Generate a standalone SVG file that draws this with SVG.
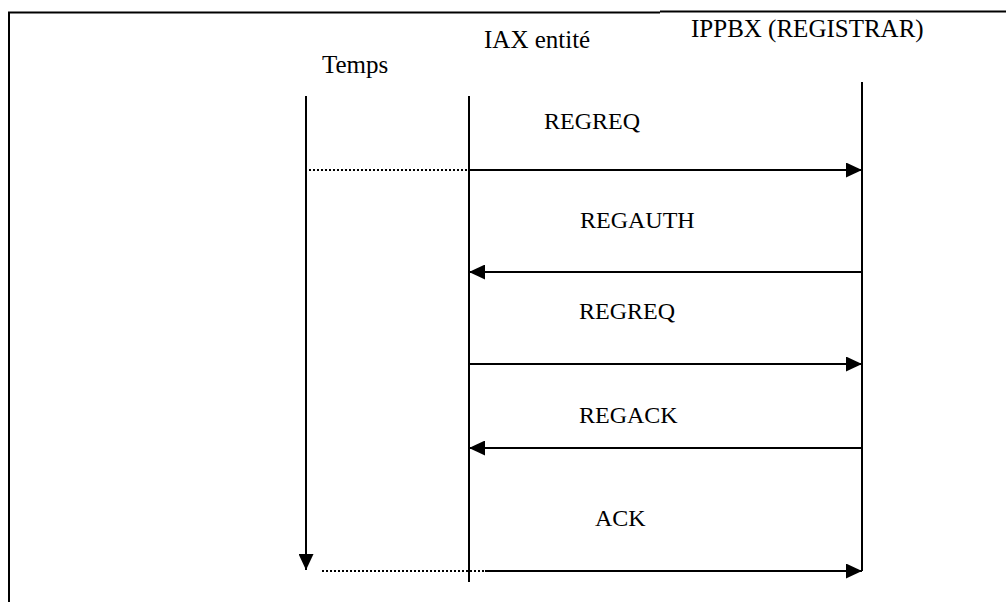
<svg xmlns="http://www.w3.org/2000/svg" width="1006" height="602" viewBox="0 0 1006 602">
  <defs>
    <marker id="head" markerWidth="16" markerHeight="15" refX="16" refY="7.5" orient="auto" markerUnits="userSpaceOnUse">
      <path d="M0,0 L16,7.5 L0,15 Z" fill="#000"/>
    </marker>
    <style>
      .t { font-family: 'Liberation Serif', 'Times New Roman', serif; font-size: 24px; fill: #000; }
      .h { font-size: 25px; }
      .life { stroke: #000; stroke-width: 2; fill: none; }
      .msg { stroke: #000; stroke-width: 2; fill: none; }
      .dot { stroke: #000; stroke-width: 2; stroke-dasharray: 2 2; fill: none; }
      .frame { stroke: #000; stroke-width: 2; fill: none; }
    </style>
  </defs>
  <rect width="1006" height="602" fill="#fff"/>

  <!-- page frame -->
  <g id="frame">
    <path class="frame" d="M9,602 V12.5 H660" stroke="#222"/>
    <path class="frame" d="M660,11.5 H1006" stroke-width="1.5"/>
  </g>

  <!-- participants -->
  <g id="temps">
    <text class="t h" x="322" y="73">Temps</text>
    <line class="life" x1="306" y1="96" x2="306" y2="570" marker-end="url(#head)"/>
  </g>
  <g id="iax">
    <text class="t h" x="484" y="48">IAX entité</text>
    <line class="life" x1="469" y1="96" x2="469" y2="582"/>
  </g>
  <g id="ippbx">
    <text class="t h" x="691" y="37">IPPBX (REGISTRAR)</text>
    <line class="life" x1="862" y1="82" x2="862" y2="571"/>
  </g>

  <!-- messages -->
  <g id="connectors">
    <line class="dot" x1="305" y1="170" x2="469" y2="170"/>
    <line class="msg" x1="469" y1="170" x2="862" y2="170" marker-end="url(#head)"/>
    <line class="msg" x1="862" y1="272" x2="469" y2="272" marker-end="url(#head)"/>
    <line class="msg" x1="469" y1="364" x2="862" y2="364" marker-end="url(#head)"/>
    <line class="msg" x1="862" y1="448" x2="469" y2="448" marker-end="url(#head)"/>
    <line class="dot" x1="322" y1="571" x2="485" y2="571"/>
    <line class="msg" x1="485" y1="571" x2="862" y2="571" marker-end="url(#head)"/>
  </g>

  <!-- message labels -->
  <g id="labels">
    <text class="t" x="544" y="129">REGREQ</text>
    <text class="t" x="580" y="228">REGAUTH</text>
    <text class="t" x="579" y="319">REGREQ</text>
    <text class="t" x="579" y="423">REGACK</text>
    <text class="t" x="595" y="526">ACK</text>
  </g>
</svg>
